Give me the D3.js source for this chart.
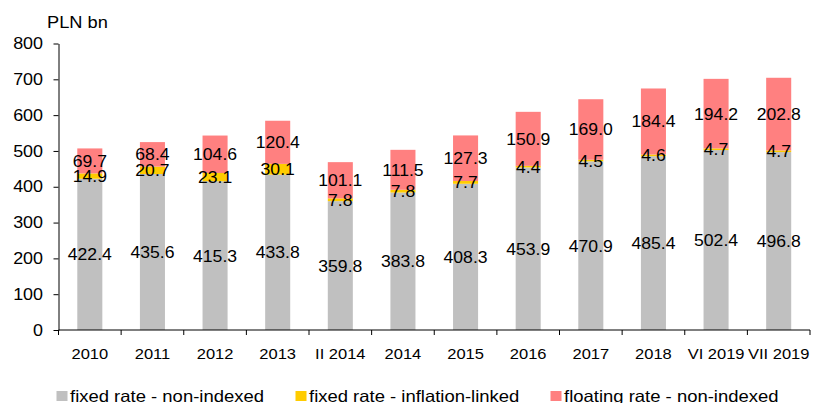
<!DOCTYPE html>
<html>
<head>
<meta charset="utf-8">
<script src="https://cdn.jsdelivr.net/npm/d3@7.9.0/dist/d3.min.js"></script>
<style>
  body { margin: 0; background: #fff; }
  svg { font-family: "Liberation Sans", Arial, sans-serif; }
</style>
</head>
<body>
<svg width="813" height="403"></svg>
<script>
// chart data
const categories = ['2010', '2011', '2012', '2013', 'II 2014', '2014', '2015', '2016', '2017', '2018', 'VI 2019', 'VII 2019'];
const fixedNonIndexed = [422.4, 435.6, 415.3, 433.8, 359.8, 383.8, 408.3, 453.9, 470.9, 485.4, 502.4, 496.8];
const fixedInflation = [14.9, 20.7, 23.1, 30.1, 7.8, 7.8, 7.7, 4.4, 4.5, 4.6, 4.7, 4.7];
const floatingNonIndexed = [69.7, 68.4, 104.6, 120.4, 101.1, 111.5, 127.3, 150.9, 169.0, 184.4, 194.2, 202.8];
const seriesNames = ['fixed rate - non-indexed', 'fixed rate - inflation-linked', 'floating rate - non-indexed'];
const yTicks = [0, 100, 200, 300, 400, 500, 600, 700, 800];

const colors = ['#c0c0c0', '#ffcc00', '#ff8080'];

let svg = d3.select('svg');
let plotLeft = 58.5, plotRight = 810, plotTop = 43.5, plotBottom = 330;

let x = d3.scaleBand().domain(categories).range([plotLeft, plotRight]).paddingInner(0.6).paddingOuter(0.3);
let y = d3.scaleLinear().domain([0, 800]).range([plotBottom, plotTop]);

// the reference text is a bit wider than Arial, so stretch it horizontally
function addText(parent, tx, ty, str, size, sx, anchor) {
  return parent.append('g')
    .attr('transform', `translate(${tx},${ty}) scale(${sx},1)`)
    .append('text')
    .attr('text-anchor', anchor || 'start')
    .attr('font-size', size)
    .attr('fill', '#000')
    .text(str);
}

// build rows for stacking
let rows = categories.map((c, i) => ({
  cat: c,
  s0: fixedNonIndexed[i],
  s1: fixedInflation[i],
  s2: floatingNonIndexed[i]
}));
let stacked = d3.stack().keys(['s0', 's1', 's2'])(rows);

// bars
stacked.forEach((layer, k) => {
  svg.append('g')
    .selectAll('rect')
    .data(layer)
    .enter()
    .append('rect')
    .attr('x', d => x(d.data.cat))
    .attr('width', x.bandwidth())
    .attr('y', d => y(d[1]))
    .attr('height', d => y(d[0]) - y(d[1]))
    .attr('fill', colors[k]);
});

// value labels, in the middle of each segment
let labels = svg.append('g');
stacked.forEach((layer) => {
  layer.forEach(d => {
    addText(labels, x(d.data.cat) + x.bandwidth() / 2, y((d[0] + d[1]) / 2) + 6,
      (d[1] - d[0]).toFixed(1), 16, 1.1, 'middle');
  });
});

// y axis
let yAxis = svg.append('g')
  .attr('transform', `translate(${plotLeft},0)`)
  .call(d3.axisLeft(y).tickValues(yTicks).tickSize(5).tickSizeOuter(0));
yAxis.selectAll('text')
  .attr('font-size', 16).attr('fill', '#000')
  .attr('x', -15.5 / 1.12)
  .attr('transform', 'scale(1.12,1)');
yAxis.select('.domain').attr('stroke', '#000');
yAxis.selectAll('.tick line').attr('stroke', '#000');

// x axis: ticks at category boundaries
let xAxis = svg.append('g').attr('transform', `translate(0,${plotBottom})`);
xAxis.append('line').attr('x1', plotLeft).attr('x2', plotRight).attr('stroke', '#000');
let step = (plotRight - plotLeft) / categories.length;
let bounds = d3.range(categories.length + 1).map(i => plotLeft + i * step);
xAxis.selectAll('.tk')
  .data(bounds)
  .enter()
  .append('line')
  .attr('x1', d => d).attr('x2', d => d)
  .attr('y1', 0).attr('y2', 5)
  .attr('stroke', '#000');
categories.forEach(c => {
  addText(xAxis, x(c) + x.bandwidth() / 2, 29, c, 15, 1.1, 'middle');
});

// unit label
addText(svg, 47, 28, 'PLN bn', 16, 1.14);

// legend
let legendX = [56.5, 295.5, 550.5];
let legend = svg.append('g');
seriesNames.forEach((name, i) => {
  legend.append('rect')
    .attr('x', legendX[i]).attr('y', 391)
    .attr('width', 11).attr('height', 10)
    .attr('fill', colors[i]);
  addText(legend, legendX[i] + 13.5, 401.5, name, 16.5, 1.12);
});
</script>
</body>
</html>
